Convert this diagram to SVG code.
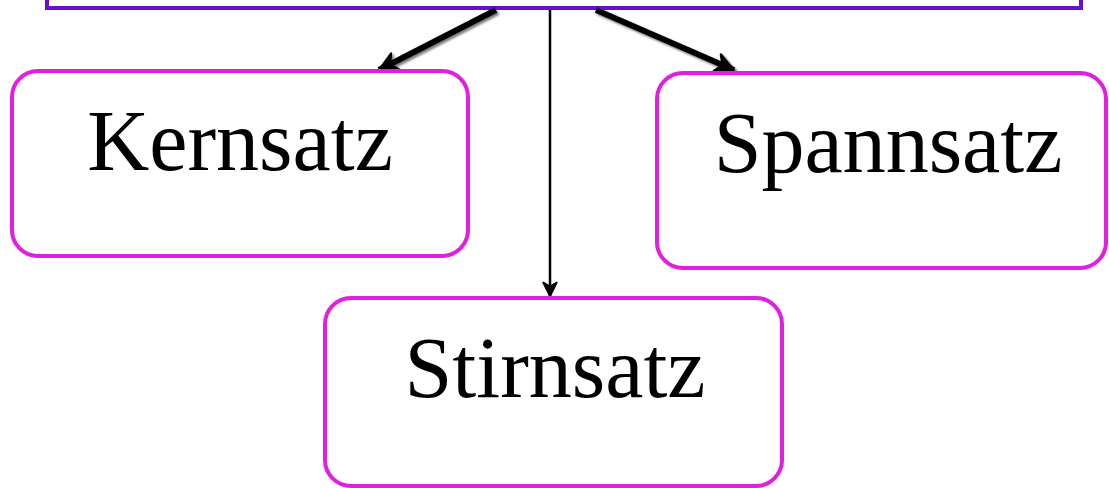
<svg xmlns="http://www.w3.org/2000/svg" width="1109" height="488" viewBox="0 0 1109 488">
  <style>
    .node rect { fill: #ffffff; stroke: #e01fe0; stroke-width: 4; }
    .top rect { fill: #ffffff; stroke: #6610cc; stroke-width: 4; }
    .label { font-family: "Liberation Serif", "Times New Roman", serif; font-size: 86px; fill: #000000; text-anchor: middle; }
    .conn { stroke: #000000; fill: none; }
    .thick { stroke-width: 6; filter: url(#shadow); }
    .thin { stroke-width: 2.5; }
  </style>
  <defs>
    <filter id="shadow" x="-20%" y="-20%" width="140%" height="140%">
      <feDropShadow dx="2" dy="2" stdDeviation="1" flood-color="#707070" flood-opacity="0.9"/>
    </filter>
    <marker id="arrow" viewBox="0 0 12 12" refX="11" refY="6" markerWidth="16" markerHeight="16" markerUnits="userSpaceOnUse" orient="auto">
      <path d="M1,1 L11,6 L1,11 L4,6 Z" fill="#000000" stroke="#000000" stroke-width="1.5" stroke-linejoin="round"/>
    </marker>
    <marker id="arrowThick" viewBox="0 0 12 12" refX="11" refY="6" markerWidth="22" markerHeight="22" markerUnits="userSpaceOnUse" orient="auto">
      <path d="M1,1 L11,6 L1,11 L4,6 Z" fill="#000000" stroke="#000000" stroke-width="1.2" stroke-linejoin="round"/>
    </marker>
  </defs>

  <g id="top" class="top">
    <rect x="47" y="-20" width="1034" height="28"/>
  </g>

  <g id="connectors">
    <line class="conn thick" x1="496" y1="10" x2="379" y2="70" marker-end="url(#arrowThick)"/>
    <line class="conn thin" x1="550" y1="10" x2="550" y2="296" marker-end="url(#arrow)"/>
    <line class="conn thick" x1="596" y1="10" x2="734" y2="70" marker-end="url(#arrowThick)"/>
  </g>

  <g id="kernsatz" class="node">
    <rect x="12" y="71" width="456" height="185" rx="26" ry="26"/>
    <text class="label" x="240" y="170">Kernsatz</text>
  </g>

  <g id="spannsatz" class="node">
    <rect x="657" y="73" width="449" height="195" rx="26" ry="26"/>
    <text class="label" x="888" y="172">Spannsatz</text>
  </g>

  <g id="stirnsatz" class="node">
    <rect x="325" y="298" width="457" height="188" rx="26" ry="26"/>
    <text class="label" x="555" y="397">Stirnsatz</text>
  </g>
</svg>
